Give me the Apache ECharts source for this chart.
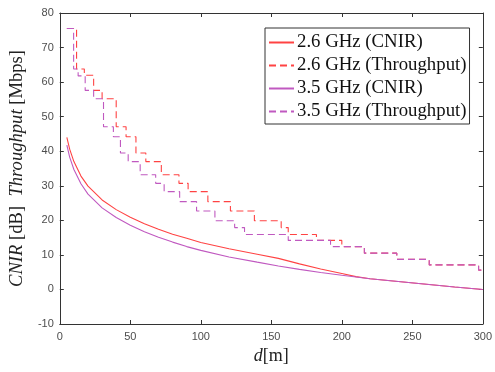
<!DOCTYPE html>
<html>
<head>
<meta charset="utf-8">
<script src="https://cdn.jsdelivr.net/npm/echarts@6/dist/echarts.min.js"></script>
<style>
html,body{margin:0;padding:0;background:#fff;}
#c{width:495px;height:372px;}
</style>
</head>
<body>
<div id="c"></div>
<script>
// ---- data ----
const xTicks = [0, 50, 100, 150, 200, 250, 300];
const yTicks = [-10, 0, 10, 20, 30, 40, 50, 60, 70, 80];

const dist = [5, 7, 10, 15, 20, 30, 40, 50, 60, 70, 80, 90, 100, 120, 140, 155, 170, 185, 200, 210, 220, 240, 260, 280, 300];
const cnir26 = [44.0, 40.6, 37.0, 32.8, 29.9, 25.9, 23.1, 20.9, 19.0, 17.4, 16.0, 14.8, 13.6, 11.8, 10.2, 9.0, 7.4, 5.9, 4.6, 3.7, 3.1, 2.3, 1.5, 0.7, 0.0];
const cnir35 = [41.8, 38.3, 34.7, 30.6, 27.6, 23.6, 20.8, 18.6, 16.7, 15.1, 13.7, 12.4, 11.3, 9.4, 7.9, 6.8, 5.8, 4.9, 4.1, 3.6, 3.1, 2.3, 1.5, 0.7, 0.0];

const tp26_d = [5, 11.9, 17.4, 24, 30, 40, 47, 54, 61, 72, 84.5, 91, 105, 121, 138, 157, 162, 182, 200, 216, 239, 262, 297, 300];
const tp26_v = [75.5, 63.8, 62.0, 57.6, 55.2, 47.1, 44.2, 39.5, 37.0, 33.2, 30.7, 28.3, 25.4, 22.7, 19.9, 17.9, 15.9, 14.2, 12.4, 10.5, 8.7, 7.1, 5.6, 5.6];
const tp35_d = [5, 9.8, 13, 18, 24, 31, 38, 43, 48.5, 57, 68, 74, 85, 97, 110, 124, 131, 162, 192, 216, 239, 262, 297, 300];
const tp35_v = [75.5, 63.8, 61.8, 57.6, 55.2, 47.1, 44.2, 39.5, 37.0, 33.2, 30.7, 28.3, 25.4, 22.7, 19.9, 17.9, 15.9, 14.2, 12.4, 10.5, 8.7, 7.1, 5.6, 5.6];

const names = ['2.6 GHz (CNIR)', '2.6 GHz (Throughput)', '3.5 GHz (CNIR)', '3.5 GHz (Throughput)'];
const RED = '#ff4343';
const PUR = '#c059c0';

const zip = (a, b) => a.map((v, i) => [v, b[i]]);

const chart = echarts.init(document.getElementById('c'), null, {renderer: 'canvas'});
const axisCol = '#333333';
const labelCol = '#4d4d4d';
const serif = '"Liberation Serif", "Times New Roman", serif';
const sans = '"Liberation Sans", Arial, sans-serif';

const baseX = {
  type: 'value', min: xTicks[0], max: xTicks[xTicks.length - 1], interval: 50,
  axisLine: {show: true, onZero: false, lineStyle: {color: axisCol, width: 1}},
  axisTick: {show: true, inside: true, length: 4, lineStyle: {color: axisCol}},
  splitLine: {show: false}
};
const baseY = {
  type: 'value', min: yTicks[0], max: yTicks[yTicks.length - 1], interval: 10,
  axisLine: {show: true, onZero: false, lineStyle: {color: axisCol, width: 1}},
  axisTick: {show: true, inside: true, length: 4, lineStyle: {color: axisCol}},
  splitLine: {show: false}
};

chart.setOption({
  animation: false,
  backgroundColor: '#fff',
  grid: {left: 54, right: 11, top: 13, bottom: 48},
  xAxis: [
    Object.assign({}, baseX, {
      position: 'bottom',
      axisLabel: {color: labelCol, fontFamily: sans, fontSize: 11, margin: 7},
      name: '{i|d}[m]', nameLocation: 'middle', nameGap: 23,
      nameTextStyle: {color: '#222', fontFamily: serif, fontSize: 18,
        rich: {i: {fontStyle: 'italic', fontFamily: serif, fontSize: 18, color: '#222'}}}
    }),
    Object.assign({}, baseX, {position: 'top', axisLabel: {show: false}})
  ],
  yAxis: [
    Object.assign({}, baseY, {
      position: 'left',
      axisLabel: {color: labelCol, fontFamily: sans, fontSize: 11, margin: 6},
      name: '{i|CNIR} [dB]  {i|Throughput} [Mbps]', nameLocation: 'middle', nameGap: 22,
      nameTextStyle: {color: '#222', fontFamily: serif, fontSize: 18.6,
        rich: {i: {fontStyle: 'italic', fontFamily: serif, fontSize: 18.6, color: '#222'}}}
    }),
    Object.assign({}, baseY, {position: 'right', axisLabel: {show: false}})
  ],
  legend: {
    orient: 'vertical', left: 265, top: 28,
    data: names,
    itemWidth: 25, itemHeight: 14, itemGap: 4,
    padding: [5, 3, 3, 3],
    borderColor: '#333', borderWidth: 1, backgroundColor: '#fff',
    itemStyle: {opacity: 0},
    textStyle: {fontFamily: serif, fontSize: 18.8, color: '#111', padding: [0, 0, 0, -2], lineHeight: 18}
  },
  series: [
    {name: names[0], type: 'line', data: zip(dist, cnir26), showSymbol: false, symbol: 'none',
     lineStyle: {color: RED, width: 1.1}, itemStyle: {color: RED}},
    {name: names[1], type: 'line', data: zip(tp26_d, tp26_v), step: 'end', showSymbol: false, symbol: 'none',
     lineStyle: {color: RED, width: 1.1, type: [7, 4]}, itemStyle: {color: RED}},
    {name: names[2], type: 'line', data: zip(dist, cnir35), showSymbol: false, symbol: 'none',
     lineStyle: {color: PUR, width: 1.1}, itemStyle: {color: PUR}},
    {name: names[3], type: 'line', data: zip(tp35_d, tp35_v), step: 'end', showSymbol: false, symbol: 'none',
     lineStyle: {color: PUR, width: 1.1, type: [7, 4]}, itemStyle: {color: PUR}}
  ]
});
</script>
</body>
</html>
